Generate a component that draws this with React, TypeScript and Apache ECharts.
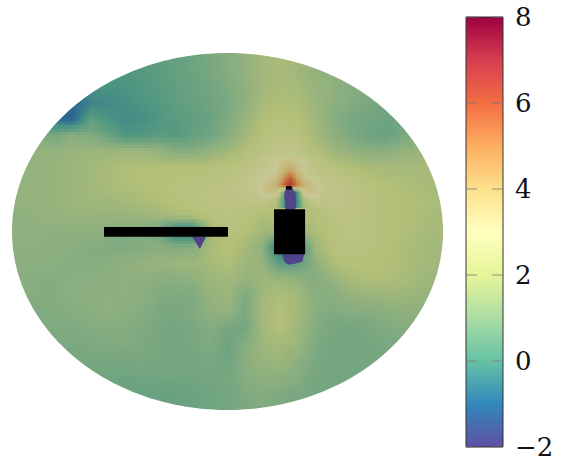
import React, { useEffect, useRef } from "react";
import * as echarts from "echarts";

// colour scale (value -> colour), as on the colour bar
const scaleValues = [-2, -1, 0, 1, 2, 3, 4, 5, 6, 7, 8];
const scaleColors = ["#5e4fa2", "#3288bd", "#66c2a5", "#abdda4", "#e6f598", "#ffffbf", "#fee08b", "#fdae61", "#f46d43", "#d53e4f", "#9e0142"];
const barTicks = { min: -2, max: 8, interval: 2 };
const barTickValues = [-2, 0, 2, 4, 6, 8];

// coarse field
const fieldX0 = -1.04, fieldDX = 0.08, fieldY0 = 1.08, fieldDY = -0.09;
const fieldRows = [
  [.1,.1,.1,.1,.1,.1,.1,.1,.1,.25,.4,.55,.8,1,1.3,1.6,1.9,1.7,1.4,1.2,1.2,1.2,1.2,1.2,1.2,1.2,1.2],
  [.1,.1,.1,.1,.1,.1,.1,.1,.1,.25,.4,.55,.8,1,1.3,1.6,1.8,1.7,1.4,1.2,1.2,1.1,1,1,1,1,1],
  [.1,.1,.1,.1,.1,.1,.1,.0,.1,.25,.4,.55,.75,1,1.3,1.6,1.8,1.6,1.3,1.2,1.1,1,.9,.9,.9,.9,.9],
  [0,0,0,0,0,-.1,-.1,-.1,.05,.2,.35,.5,.65,.9,1.2,1.6,1.8,1.7,1.4,1.2,1,.9,.8,.8,.8,.8,.8],
  [-.7,-.7,-.7,-.8,-1,-.5,-.3,-.2,-.05,.1,.3,.45,.6,.8,1.2,1.7,1.9,1.9,1.5,1.2,1,.8,.7,.7,.7,.7,.7],
  [-.8,-.8,-.8,-.9,-1.2,.3,-.1,-.3,-.2,0,.2,.35,.5,.9,1.4,1.9,2.1,2,1.6,1.1,.8,.7,.6,.6,.7,.7,.7],
  [.9,.9,.9,.7,1.1,.9,.5,0,0,.2,.1,.4,.6,1,1.6,2.1,2.4,2.3,1.7,1.2,.9,.6,.45,.7,.9,1,1],
  [1.3,1.3,1.3,1.3,1.4,1.5,1.5,1.5,1.5,1.3,1,1,1.3,1.6,2,2.3,2.6,2.5,2,1.6,1.3,1.1,1.1,1.3,1.4,1.5,1.5],
  [1.3,1.3,1.3,1.4,1.5,1.6,1.8,1.9,2,2,2,2,2.1,2.2,2.4,2.6,3,2.9,2.5,2.2,2,1.8,1.7,1.7,1.7,1.8,1.8],
  [1.3,1.3,1.3,1.4,1.5,1.6,1.8,1.9,2,2.1,2.2,2.2,2.3,2.4,2.6,3,3.2,3.2,3,2.6,2.4,2.2,2,1.9,1.8,1.7,1.7],
  [1.3,1.3,1.3,1.4,1.5,1.6,1.6,1.7,1.8,2,2.2,2.3,2.4,2.5,2.5,2.5,2,1.9,2.5,2.6,2.5,2.3,2.1,2,1.9,1.8,1.8],
  [1.2,1.2,1.3,1.3,1.4,1.4,1.4,1.4,1.5,1.6,1.8,2,2.2,2.3,2.2,1.9,2,2,2,2.3,2.4,2.3,2.1,2,1.9,1.7,1.7],
  [1.2,1.2,1.2,1.2,1.2,1.2,1.1,1,1,.6,-.8,-.8,1.6,2.2,2,1.6,1.5,1.5,1.8,2.2,2.4,2.3,2.1,2,1.8,1.7,1.7],
  [1.2,1.2,1.2,1.1,1.1,1,.9,.85,1,1.1,1,1.1,1.8,2.1,1.7,1.2,-1,-1,1.5,2.1,2.3,2.2,2.1,1.9,1.7,1.6,1.6],
  [1.1,1.1,1.1,1.1,1,1,1.1,1.2,1.3,1.4,1.5,1.5,1.7,1.9,1.5,1.4,.3,.3,1.1,1.8,2.1,2.1,2,1.9,1.7,1.6,1.6],
  [1.1,1.1,1,1,1.1,1.1,1.1,1.2,1.2,1.1,1.1,1.2,1.5,1.6,1.3,1.5,1.5,1.3,1,1.3,1.7,1.9,1.9,1.8,1.6,1.5,1.5],
  [1,1,1,1,1.1,1.1,1.2,1.2,1.1,.9,.85,.9,1.3,1.5,.8,1.6,1.9,1.7,1.1,1,1.3,1.4,1.5,1.5,1.4,1.4,1.4],
  [.9,.9,.9,.95,1,1.1,1.2,1.1,1,.8,.75,.9,1.2,1.3,.8,1.7,2,1.7,1.1,.9,1,1,1.1,1.2,1.2,1.2,1.2],
  [.9,.9,.9,.9,.9,.95,1,1,.9,.75,.7,.8,1,.7,.7,1.6,2,1.6,1,.75,.7,.75,.9,1,1,1,1],
  [.8,.8,.8,.8,.8,.85,.9,.95,.85,.75,.7,.75,.9,.55,1,1.5,1.7,1.5,.9,.7,.65,.7,.8,.8,.8,.8,.8],
  [.7,.7,.7,.7,.7,.75,.75,.75,.8,.75,.7,.7,.8,.6,1.1,1.4,1.5,1.2,.8,.65,.65,.7,.7,.7,.7,.7,.7],
  [.6,.6,.6,.6,.6,.6,.6,.6,.6,.65,.65,.65,.7,.75,1,1.2,1.2,1,.75,.65,.65,.7,.7,.7,.7,.7,.7],
  [.5,.5,.5,.5,.5,.5,.5,.5,.5,.5,.5,.55,.6,.7,.9,1,.9,.8,.7,.65,.65,.65,.65,.65,.65,.65,.65],
  [.5,.5,.5,.5,.5,.5,.5,.5,.5,.5,.5,.55,.6,.7,.8,.9,.8,.7,.65,.6,.6,.6,.6,.6,.6,.6,.6],
  [.5,.5,.5,.5,.5,.5,.5,.5,.5,.5,.5,.55,.6,.7,.8,.9,.8,.7,.65,.6,.6,.6,.6,.6,.6,.6,.6],
];

// finer patch round the hot spot above the block
const hotX0 = 0.14, hotDX = 0.03, hotY0 = 0.42, hotDY = -0.04;
const hotRows = [
  [2.5,2.6,2.7,2.8,3,3.1,2.9,2.7,2.5,2.3,2.2],
  [2.5,2.6,2.8,3.1,3.5,3.7,3.3,3,2.6,2.4,2.3],
  [2.6,2.7,2.9,3.1,3.9,4.3,3.6,3,2.7,2.5,2.3],
  [2.8,3,3.2,3.5,4.8,6,4.4,3.4,3,2.8,2.5],
  [3,3.3,3.6,4,5.8,7,5.4,3.9,3.6,3.2,2.8],
  [2.9,3.2,3.4,3.2,.5,-2,-.5,3,3.4,3.2,2.7],
  [2.6,2.6,2.5,2,0,-2,-.6,1.8,2.6,2.8,2.6],
  [2.4,2.3,2,1.7,-.1,-2,-.5,1.5,2,2.5,2.4],
];

// regions at the low end of the scale
const lowValue = -2;
const lowRegions = [
  [[.272,.25],[.3,.25],[.314,.205],[.319,.16],[.314,.12],[.268,.12],[.268,.16],[.263,.205]],
  [[.254,-.125],[.356,-.125],[.347,-.17],[.31,-.18],[.282,-.186],[.263,-.17]],
  [[-.165,-.03],[-.1,-.03],[-.128,-.098]],
];

// solid black obstacles [x0, y0, x1, y1]
const obstacles = [
  [-.573,-.03,.002,.025],
  [.216,-.128,.36,.125],
  [.272,.235,.298,.255],
];

const shade = 0.78;
const strips = 5;

function rgbOf(hex: string) {
  return [1, 3, 5].map((i) => parseInt(hex.slice(i, i + 2), 16));
}
function colorAt(v: number, k: number) {
  const t = Math.max(-2, Math.min(8, v));
  let i = 0;
  while (i < scaleValues.length - 2 && t > scaleValues[i + 1]) i++;
  const f = (t - scaleValues[i]) / (scaleValues[i + 1] - scaleValues[i]);
  const a = rgbOf(scaleColors[i]), b = rgbOf(scaleColors[i + 1]);
  const c = a.map((x, n) => Math.round((x + (b[n] - x) * f) * k));
  return `rgb(${c[0]},${c[1]},${c[2]})`;
}
function gradient(v0: number, v1: number) {
  const stops = [0, 0.25, 0.5, 0.75, 1].map((o) => ({ offset: o, color: colorAt(v0 + (v1 - v0) * o, shade) }));
  return new echarts.graphic.LinearGradient(0, 0, 1, 0, stops);
}

// one mesh cell per data item, shaded between its four corner values
function fieldSeries(rows: number[][], x0: number, dx: number, y0: number, dy: number, z: number) {
  const cells: number[][] = [];
  rows.forEach((row, j) => row.forEach((v, i) => {
    if (i + 1 < row.length && j + 1 < rows.length) {
      cells.push([x0 + i * dx, y0 + j * dy, v, row[i + 1], rows[j + 1][i], rows[j + 1][i + 1]]);
    }
  }));
  return {
    type: "custom", coordinateSystem: "cartesian2d", xAxisIndex: 0, yAxisIndex: 0, silent: true, clip: false,
    encode: { x: 0, y: 1 }, z, data: cells,
    renderItem: (_: any, api: any) => {
      const x = api.value(0), y = api.value(1);
      const [tl, tr, bl, br] = [api.value(2), api.value(3), api.value(4), api.value(5)];
      const a = api.coord([x, y]), b = api.coord([x + dx, y + dy]);
      const left = Math.round(a[0]), right = Math.round(b[0]);
      const children = [];
      for (let s = 0; s < strips; s++) {
        const f = (s + 0.5) / strips;
        const top = Math.round(a[1] + ((b[1] - a[1]) * s) / strips);
        const bottom = Math.round(a[1] + ((b[1] - a[1]) * (s + 1)) / strips);
        children.push({
          type: "rect",
          shape: { x: left, y: top, width: right - left + 1, height: bottom - top + 1 },
          style: { fill: gradient(tl + (bl - tl) * f, tr + (br - tr) * f) },
        });
      }
      return { type: "group", children };
    },
  };
}

export default function App() {
  const ref = useRef<HTMLDivElement>(null);
  useEffect(() => {
    document.body.style.margin = "0";
    const chart = echarts.init(ref.current!, null, { renderer: "svg" });
    const hidden = { show: false };
    chart.setOption({
      animation: false,
      grid: [
        { left: 12, top: 53, width: 431, height: 357 },
        { left: 466, top: 17, width: 37, height: 430 },
      ],
      xAxis: [
        { type: "value", gridIndex: 0, min: -1, max: 1, show: false },
        { type: "value", gridIndex: 1, min: 0, max: 1, show: false },
      ],
      yAxis: [
        { type: "value", gridIndex: 0, min: -1, max: 1, show: false },
        {
          type: "value", gridIndex: 1, position: "right", ...barTicks,
          axisLine: hidden, splitLine: hidden, axisTick: hidden,
          axisLabel: {
            margin: 12, color: "#111", fontFamily: "DejaVu Serif", fontSize: 26,
            formatter: (v: number) => (v < 0 ? "\u2212" + Math.abs(v) : String(v)),
          },
        },
      ],
      series: [
        fieldSeries(fieldRows, fieldX0, fieldDX, fieldY0, fieldDY, 1),
        fieldSeries(hotRows, hotX0, hotDX, hotY0, hotDY, 3),
        {
          type: "custom", coordinateSystem: "cartesian2d", xAxisIndex: 0, yAxisIndex: 0, silent: true, clip: false, z: 5,
          data: lowRegions.map((_, i) => [i]), encode: { x: 0 },
          renderItem: (p: any, api: any) => ({
            type: "polygon",
            shape: { points: lowRegions[p.dataIndex].map((q) => api.coord(q)) },
            style: { fill: colorAt(lowValue, shade + 0.08) },
          }),
        },
        {
          type: "custom", coordinateSystem: "cartesian2d", xAxisIndex: 0, yAxisIndex: 0, silent: true, clip: false, z: 6,
          data: obstacles, encode: { x: [0, 2], y: [1, 3] },
          renderItem: (_: any, api: any) => {
            const a = api.coord([api.value(0), api.value(3)]), b = api.coord([api.value(2), api.value(1)]);
            return { type: "rect", shape: { x: a[0], y: a[1], width: b[0] - a[0], height: b[1] - a[1] }, style: { fill: "#000" } };
          },
        },
        {
          type: "custom", coordinateSystem: "cartesian2d", xAxisIndex: 0, yAxisIndex: 0, silent: true, clip: false, z: 7,
          data: [[0, 0]], encode: { x: 0, y: 1 },
          renderItem: (_: any, api: any) => {
            const pts: number[][] = [[-1.08, 0], [-1.08, 1.13], [1.08, 1.13], [1.08, -1.13], [-1.08, -1.13], [-1.08, 0]];
            const n = 360;
            for (let i = 0; i <= n; i++) {
              const t = Math.PI + (i / n) * 2 * Math.PI;
              pts.push([Math.cos(t), Math.sin(t)]);
            }
            return { type: "polygon", shape: { points: pts.map((q) => api.coord(q)) }, style: { fill: "#fff" } };
          },
        },
        {
          type: "custom", coordinateSystem: "cartesian2d", xAxisIndex: 1, yAxisIndex: 1, silent: true, z: 2,
          data: [[0, barTicks.min, 1, barTicks.max]], encode: { x: [0, 2], y: [1, 3] },
          renderItem: (_: any, api: any) => {
            const a = api.coord([api.value(0), api.value(3)]), b = api.coord([api.value(2), api.value(1)]);
            const span = barTicks.max - barTicks.min;
            const stops = scaleValues.map((v, i) => ({ offset: (barTicks.max - v) / span, color: scaleColors[i] })).reverse();
            return {
              type: "rect",
              shape: { x: a[0], y: a[1], width: b[0] - a[0], height: b[1] - a[1] },
              style: { fill: new echarts.graphic.LinearGradient(0, 0, 0, 1, stops), stroke: "#333", lineWidth: 1 },
            };
          },
        },
        {
          type: "custom", coordinateSystem: "cartesian2d", xAxisIndex: 1, yAxisIndex: 1, silent: true, z: 3,
          data: barTickValues.map((v) => [0, v]), encode: { x: 0, y: 1 },
          renderItem: (_: any, api: any) => {
            const l = api.coord([0, api.value(1)]), r = api.coord([1, api.value(1)]);
            const style = { stroke: "rgba(120,120,120,0.8)", lineWidth: 1, fill: "none" };
            return {
              type: "group",
              children: [
                { type: "line", shape: { x1: l[0], y1: l[1], x2: l[0] + 11, y2: l[1] }, style },
                { type: "line", shape: { x1: r[0] - 11, y1: r[1], x2: r[0], y2: r[1] }, style },
              ],
            };
          },
        },
      ],
    } as any);
    return () => chart.dispose();
  }, []);
  return <div ref={ref} style={{ position: "absolute", left: 0, top: 0, width: 561, height: 467 }} />;
}
